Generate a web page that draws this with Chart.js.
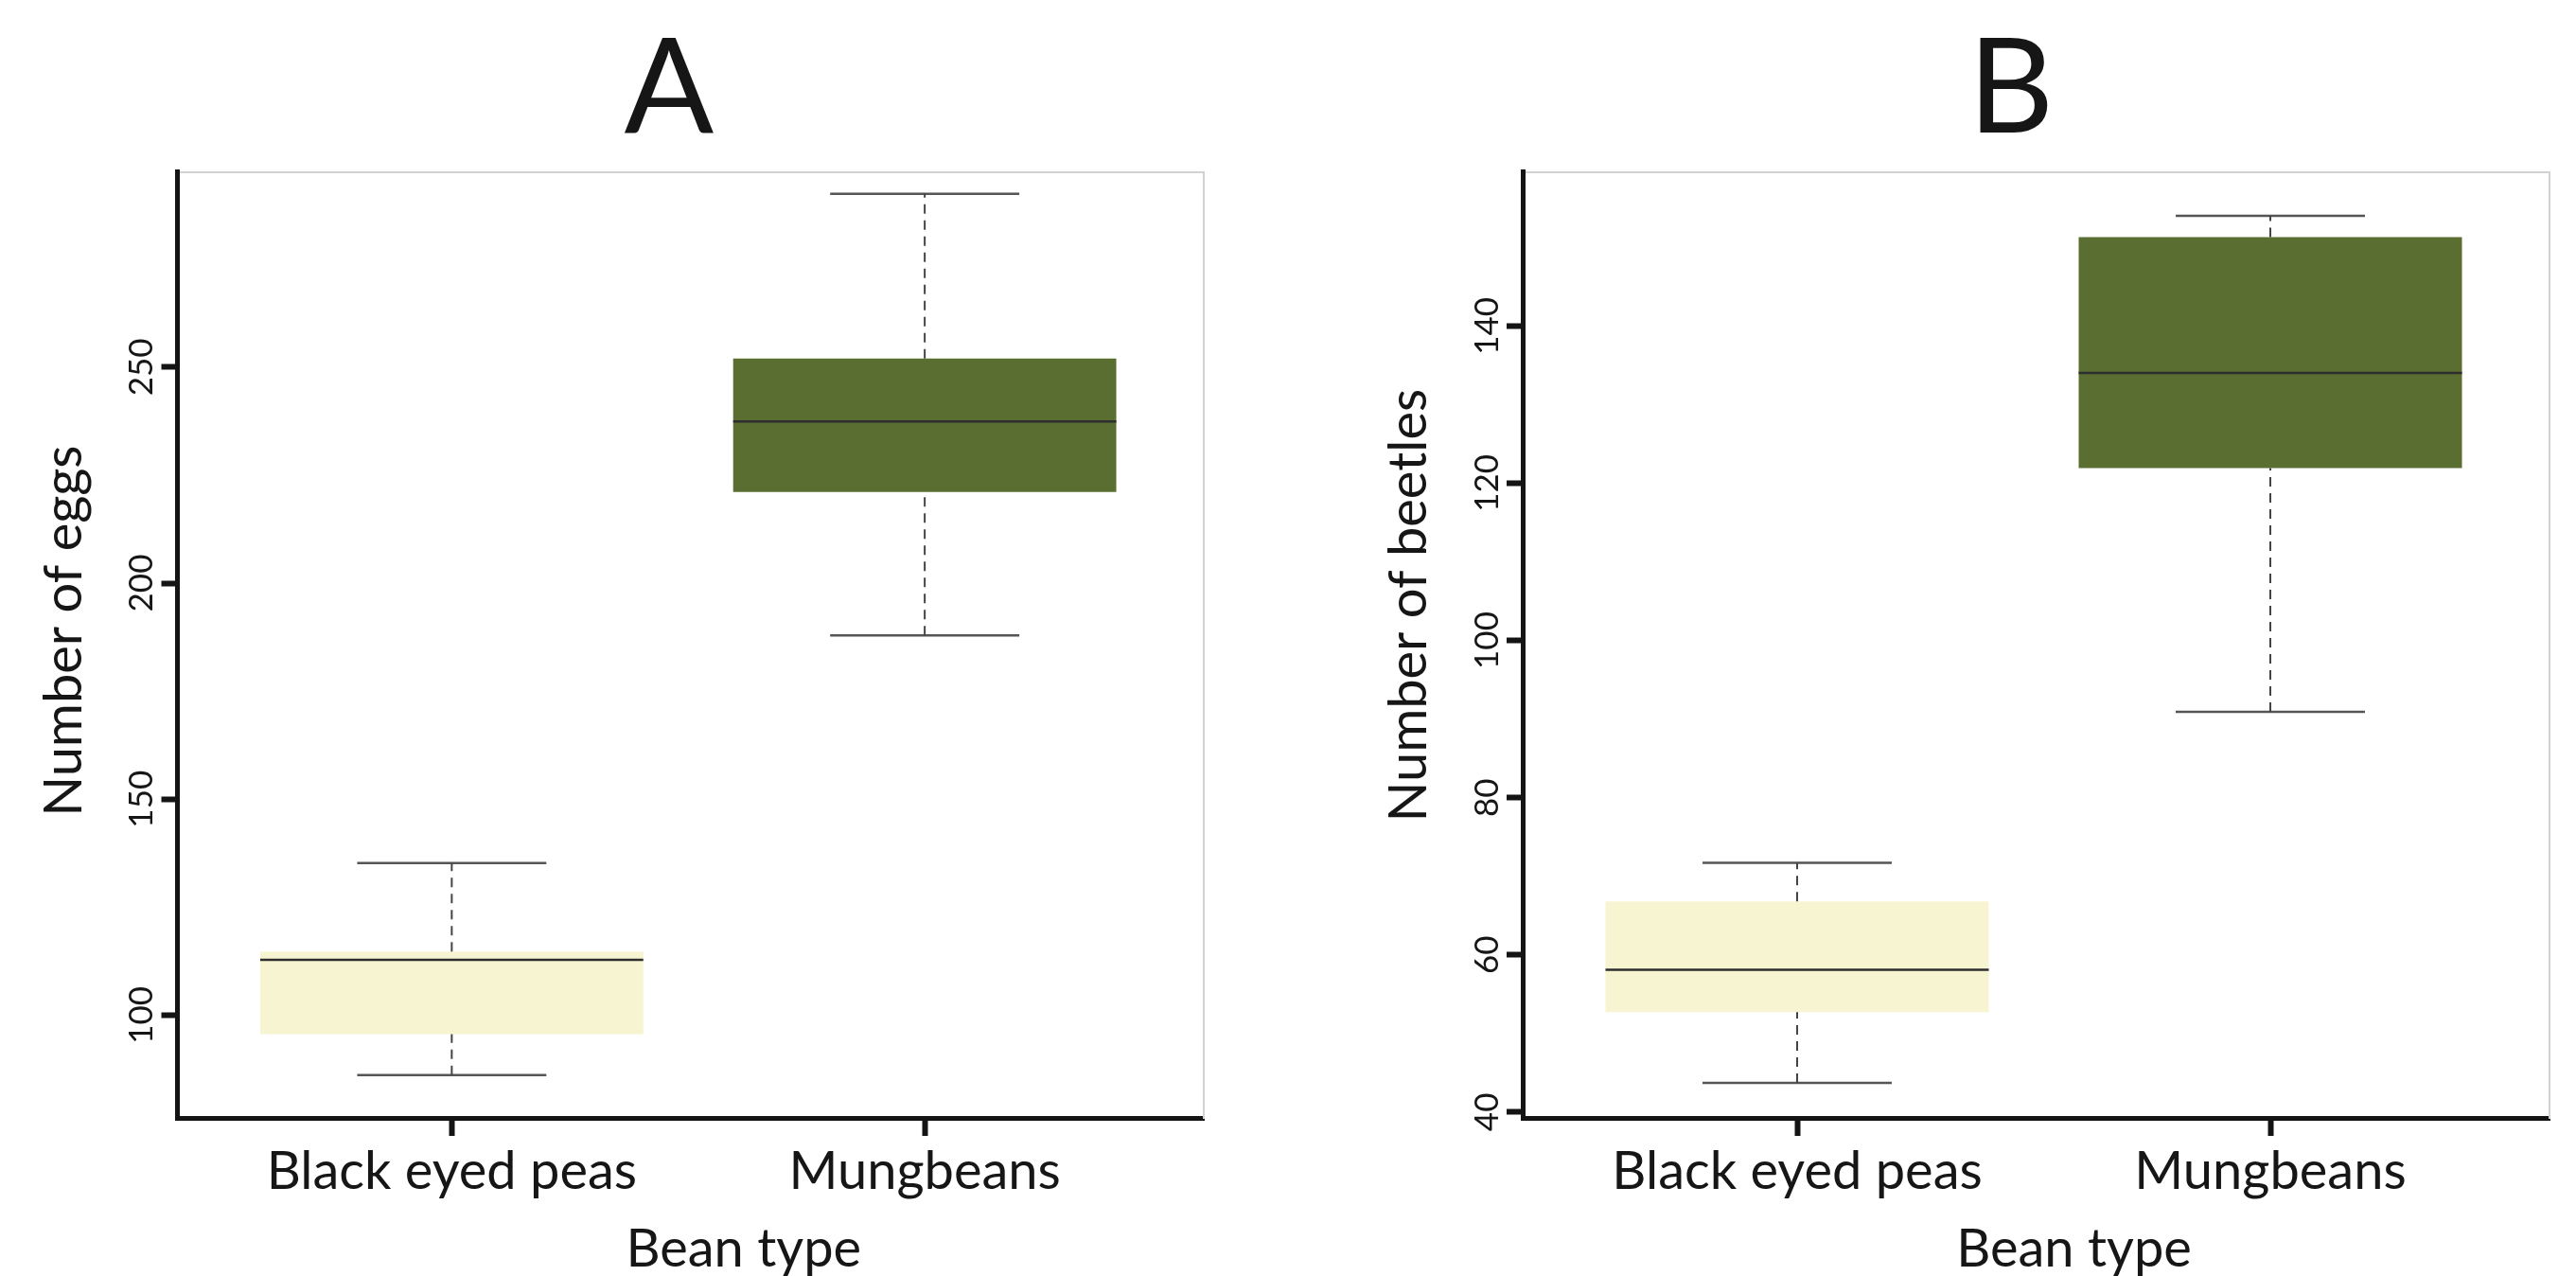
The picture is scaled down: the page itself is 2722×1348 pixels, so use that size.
<!DOCTYPE html>
<html>
<head>
<meta charset="utf-8">
<script src="https://cdn.jsdelivr.net/npm/chart.js@4.4.1/dist/chart.umd.min.js"></script>
<style>
  html, body { margin: 0; padding: 0; background: #ffffff; overflow: hidden; width: 2722px; height: 1348px; }
  canvas { position: absolute; top: 0; }
  #chartA { left: 0px; }
  #chartB { left: 1420px; }
</style>
</head>
<body>
<canvas id="chartA" width="1414" height="1348"></canvas>
<canvas id="chartB" width="1410" height="1348"></canvas>
<script>
// ---------------- DATA ----------------
const categories = ['Black eyed peas', 'Mungbeans'];
const categoryX = [1, 2];

// Panel A: Number of eggs
const eggsMin    = [86.1, 187.9];
const eggsQ1     = [95.6, 221.1];
const eggsMedian = [112.8, 237.4];
const eggsQ3     = [114.7, 252.0];
const eggsMax    = [135.2, 290.1];
const eggsTicks  = [100, 150, 200, 250];
const eggsRange  = [76.1, 295.2];

// Panel B: Number of beetles
const beetlesMin    = [43.7, 90.9];
const beetlesQ1     = [52.7, 121.9];
const beetlesMedian = [58.1, 134.0];
const beetlesQ3     = [66.8, 151.3];
const beetlesMax    = [71.7, 154.0];
const beetlesTicks  = [40, 60, 80, 100, 120, 140];
const beetlesRange  = [39.2, 159.6];

const xRange = [0.42, 2.59];
const xTitle = 'Bean type';

// ---------------- STYLE ----------------
const FONT = 'Lato, "Open Sans", sans-serif';
const TEXT = '#161616';
const AXIS = '#141414';
const LABEL_SIZE = 56;
const boxColors = ['#f7f4d1', '#5a6e31'];
const capHalf = 0.2;
const boxHalf = 0.405;
const labelNudge = [18, 0];

// Axis titles drawn from the scales' own geometry (allows the slight off-centre placement of the original)
const axisTitles = {
  id: 'axisTitles',
  afterDraw(chart, args, o) {
    const ctx = chart.ctx;
    const xs = chart.scales.x, ys = chart.scales.y;
    const half = LABEL_SIZE * 1.2 / 2;
    ctx.save();
    ctx.fillStyle = TEXT;
    ctx.font = LABEL_SIZE + 'px ' + FONT;
    ctx.textAlign = 'center';
    ctx.textBaseline = 'middle';
    ctx.fillText(o.xText, (xs.left + xs.right) / 2 + o.xShift, xs.bottom - half + o.xLift);
    ctx.translate(ys.left + half + o.yPad, (ys.top + ys.bottom) / 2 + o.yShift);
    ctx.rotate(-Math.PI / 2);
    ctx.fillText(o.yText, 0, 0);
    ctx.restore();
  }
};

function seg(points, color, width, dash) {
  return {
    type: 'line', data: points, borderColor: color, borderWidth: width,
    borderDash: dash || [], pointRadius: 0, pointHoverRadius: 0, fill: false,
    tension: 0, order: 0, borderCapStyle: 'butt'
  };
}

function boxChart(canvasId, p) {
  const datasets = [{
    type: 'bar',
    data: categories.map((c, i) => ({ x: categoryX[i], y: [p.q1[i], p.q3[i]] })),
    backgroundColor: boxColors,
    borderWidth: 0,
    barPercentage: 0.81,
    categoryPercentage: 1,
    order: 10
  }];
  categories.forEach((c, i) => {
    const x = categoryX[i];
    datasets.push(seg([{ x: x, y: p.q3[i] }, { x: x, y: p.max[i] }], '#444444', 2, [10, 7]));
    datasets.push(seg([{ x: x, y: p.min[i] }, { x: x, y: p.q1[i] }], '#444444', 2, [10, 7]));
    datasets.push(seg([{ x: x - capHalf, y: p.max[i] }, { x: x + capHalf, y: p.max[i] }], '#555555', 2.5));
    datasets.push(seg([{ x: x - capHalf, y: p.min[i] }, { x: x + capHalf, y: p.min[i] }], '#555555', 2.5));
    datasets.push(seg([{ x: x - boxHalf, y: p.median[i] }, { x: x + boxHalf, y: p.median[i] }], '#2e2e2e', 2.5));
  });

  return new Chart(document.getElementById(canvasId), {
    type: 'bar',
    data: { datasets: datasets },
    plugins: [axisTitles],
    options: {
      responsive: false,
      animation: false,
      events: [],
      layout: { padding: 0 },
      plugins: {
        legend: { display: false },
        tooltip: { enabled: false },
        title: {
          display: true, text: p.panel, color: TEXT,
          font: { family: FONT, size: 140, weight: 'normal', lineHeight: 1 },
          padding: { top: 25, bottom: 16.5 }
        },
        axisTitles: {
          xText: xTitle, xShift: p.xShift, xLift: 6,
          yText: p.yTitle, yShift: p.yShift, yPad: p.titlePad
        }
      },
      scales: {
        x: {
          type: 'linear', position: 'bottom', min: xRange[0], max: xRange[1], offset: false,
          afterBuildTicks: s => { s.ticks = categoryX.map(v => ({ value: v })); },
          afterFit: s => { s.height = 166.5; },
          grid: { display: true, offset: false, drawOnChartArea: false, drawTicks: true, tickLength: 18.5, tickWidth: 6, tickColor: AXIS, color: AXIS },
          border: { display: true, color: AXIS, width: 5 },
          ticks: {
            callback: v => categories[categoryX.indexOf(v)],
            font: { family: FONT, size: LABEL_SIZE }, color: TEXT, padding: 4,
            labelOffset: c => labelNudge[c.index] || 0,
            maxRotation: 0, minRotation: 0, autoSkip: false
          },
          title: { display: false }
        },
        xTop: {
          type: 'linear', position: 'top', min: xRange[0], max: xRange[1], display: true, offset: false,
          afterFit: s => { s.height = 0; },
          grid: { display: false, drawTicks: false, offset: false },
          ticks: { display: false },
          border: { display: true, color: '#d2d2d2', width: 2 }
        },
        y: {
          type: 'linear', position: 'left', min: p.range[0], max: p.range[1],
          afterBuildTicks: s => { s.ticks = p.ticks.map(v => ({ value: v })); },
          afterFit: s => { s.width = p.yWidth; },
          grid: { display: true, drawOnChartArea: false, drawTicks: true, tickLength: 17, tickWidth: 6, tickColor: AXIS, color: AXIS },
          border: { display: true, color: AXIS, width: 5 },
          ticks: {
            font: { family: FONT, size: 35 }, color: TEXT,
            minRotation: 90, maxRotation: 90, crossAlign: 'center', padding: p.tickPad, autoSkip: false
          },
          title: { display: false }
        },
        yRight: {
          type: 'linear', position: 'right', min: p.range[0], max: p.range[1], display: true,
          afterFit: s => { s.width = p.rightWidth; },
          grid: { display: false, drawTicks: false },
          ticks: { display: false },
          border: { display: true, color: '#d2d2d2', width: 2 }
        }
      }
    }
  });
}

boxChart('chartA', {
  panel: 'A', yTitle: 'Number of eggs',
  min: eggsMin, q1: eggsQ1, median: eggsMedian, q3: eggsQ3, max: eggsMax,
  ticks: eggsTicks, range: eggsRange,
  yWidth: 187.5, rightWidth: 142, tickPad: -10, titlePad: 34,
  xShift: 56, yShift: -15
});

boxChart('chartB', {
  panel: 'B', yTitle: 'Number of beetles',
  min: beetlesMin, q1: beetlesQ1, median: beetlesMedian, q3: beetlesQ3, max: beetlesMax,
  ticks: beetlesTicks, range: beetlesRange,
  yWidth: 189, rightWidth: 136, tickPad: -10, titlePad: 35,
  xShift: 40, yShift: -42
});
</script>
</body>
</html>
